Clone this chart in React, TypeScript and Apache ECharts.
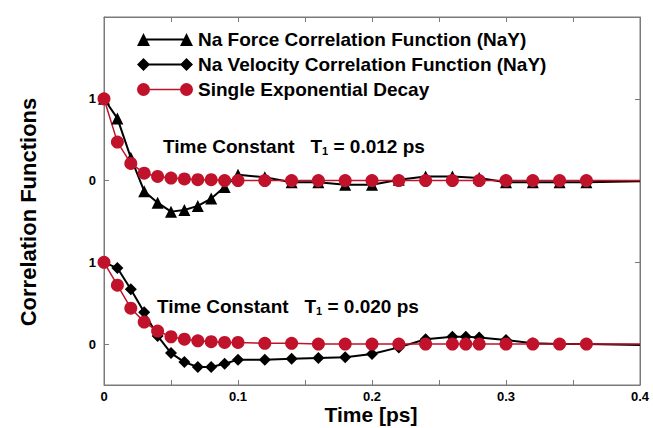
import React, { useEffect, useRef } from "react";
import * as echarts from "echarts";

// ---- data ----
// Upper panel: Na force correlation function (NaY), plotted with a +2 offset
const forceT = [0, 0.01, 0.02, 0.03, 0.04, 0.05, 0.06, 0.07, 0.08, 0.09, 0.1, 0.12, 0.14, 0.16, 0.18, 0.2, 0.22, 0.24, 0.26, 0.28, 0.3, 0.32, 0.34, 0.36, 0.4];
const forceV = [1, 0.76, 0.28, -0.13, -0.27, -0.38, -0.36, -0.31, -0.22, -0.08, 0.07, 0.04, -0.02, -0.02, -0.05, -0.05, 0.01, 0.05, 0.05, 0.03, -0.02, -0.02, -0.02, -0.02, -0.01];
// Upper panel: single exponential decay (T1 = 0.012 ps)
const expTopT = [0, 0.01, 0.02, 0.03, 0.04, 0.05, 0.06, 0.07, 0.08, 0.09, 0.1, 0.12, 0.14, 0.16, 0.18, 0.2, 0.22, 0.24, 0.26, 0.28, 0.3, 0.32, 0.34, 0.36, 0.4];
const expTopV = [1, 0.47, 0.21, 0.09, 0.05, 0.03, 0.02, 0.01, 0.01, 0, 0, 0, 0, 0, 0, 0, 0, 0, 0, 0, 0, 0, 0, 0, 0];
// Lower panel: Na velocity correlation function (NaY)
const velT = [0, 0.01, 0.02, 0.03, 0.04, 0.05, 0.06, 0.07, 0.08, 0.09, 0.1, 0.12, 0.14, 0.16, 0.18, 0.2, 0.22, 0.24, 0.26, 0.27, 0.28, 0.3, 0.32, 0.34, 0.36, 0.4];
const velV = [1, 0.93, 0.67, 0.39, 0.1, -0.11, -0.22, -0.28, -0.28, -0.24, -0.19, -0.19, -0.18, -0.17, -0.16, -0.12, -0.04, 0.06, 0.09, 0.09, 0.08, 0.05, 0.01, 0, 0, -0.01];
// Lower panel: single exponential decay (T1 = 0.020 ps)
const expBotT = [0, 0.01, 0.02, 0.03, 0.04, 0.05, 0.06, 0.07, 0.08, 0.09, 0.1, 0.12, 0.14, 0.16, 0.18, 0.2, 0.22, 0.24, 0.26, 0.27, 0.28, 0.3, 0.32, 0.34, 0.36, 0.4];
const expBotV = [1, 0.72, 0.44, 0.27, 0.16, 0.09, 0.06, 0.04, 0.03, 0.02, 0.02, 0.01, 0.01, 0, 0, 0, 0, 0, 0, 0, 0, 0, 0, 0, 0, 0];

const TOP_OFFSET = 2;
const LINE_END_T = 0.4; // end of the line, drawn without a marker

const xLabelValues = [0, 0.1, 0.2, 0.3, 0.4];
const xTickValues = [0, 0.05, 0.1, 0.15, 0.2, 0.25, 0.3, 0.35, 0.4];
const yTickValues = [0, 1, 2, 3];
const yTickLabels = ["0", "1", "0", "1"];

const legendNames = [
  "Na Force Correlation Function (NaY)",
  "Na Velocity Correlation Function (NaY)",
  "Single Exponential Decay",
];
const annotations = ["0.012", "0.020"];
const xAxisTitle = "Time [ps]";
const yAxisTitle = "Correlation Functions";

const FONT = "'Liberation Sans', Arial, Helvetica, sans-serif";
const RED = "#c0122a";
const AXIS_GRAY = "#7a7a7a";

const toPoints = (ts: number[], vs: number[], off: number) =>
  ts.map((t, i) =>
    t === LINE_END_T ? { value: [t, vs[i] + off], symbol: "none" } : [t, vs[i] + off]
  );

const ICON_TRI =
  "path://M0 13 L6.5 0 L13 13 Z M43 13 L49.5 0 L56 13 Z M6.5 5.5 L49.5 5.5 L49.5 7.5 L6.5 7.5 Z";
const ICON_DIA =
  "path://M0 6.5 L6.5 0 L13 6.5 L6.5 13 Z M43 6.5 L49.5 0 L56 6.5 L49.5 13 Z M6.5 5.5 L49.5 5.5 L49.5 7.5 L6.5 7.5 Z";
const ICON_CIR =
  "path://M0 6.5 A6.5 6.5 0 1 1 13 6.5 A6.5 6.5 0 1 1 0 6.5 Z M43 6.5 A6.5 6.5 0 1 1 56 6.5 A6.5 6.5 0 1 1 43 6.5 Z M6.5 5.75 L49.5 5.75 L49.5 7.25 L6.5 7.25 Z";

export default function App() {
  const ref = useRef<HTMLDivElement>(null);

  useEffect(() => {
    if (!ref.current) return;
    const chart = echarts.init(ref.current, null, { renderer: "svg" });

    const annotationText = (val: string, left: number, top: number) => ({
      type: "text",
      left,
      top,
      style: {
        text: `{m|Time Constant   T}{s|1}{m| = ${val} ps}`,
        rich: {
          m: { fontSize: 19, fontWeight: "bold", fontFamily: FONT, fill: "#000", lineHeight: 20, verticalAlign: "middle" },
          s: { fontSize: 11, fontWeight: "bold", fontFamily: FONT, fill: "#000", lineHeight: 11, verticalAlign: "bottom" },
        },
      },
    });

    const axisCommon = {
      type: "value",
      show: true,
      gridIndex: 0,
      splitLine: { show: false },
      axisLine: { show: true, onZero: false, lineStyle: { color: AXIS_GRAY, width: 1 } },
    };

    const option: any = {
      animation: false,
      backgroundColor: "#fff",
      grid: {
        left: 104,
        right: 13,
        top: 17,
        bottom: 43,
        containLabel: false,
        outerBoundsMode: "none",
        show: true,
        borderColor: AXIS_GRAY,
        borderWidth: 1,
        backgroundColor: "transparent",
      },
      legend: {
        orient: "vertical",
        left: 137,
        top: 30,
        padding: 0,
        itemWidth: 56,
        itemHeight: 13,
        itemGap: 6,
        textStyle: { fontSize: 19, fontWeight: "bold", fontFamily: FONT, color: "#000", lineHeight: 18 },
        itemStyle: { borderWidth: 0 },
        data: [
          { name: legendNames[0], icon: ICON_TRI },
          { name: legendNames[1], icon: ICON_DIA },
          { name: legendNames[2], icon: ICON_CIR },
        ],
        selectedMode: false,
      },
      xAxis: [
        {
          ...axisCommon,
          min: 0,
          max: 0.4,
          position: "bottom",
          axisTick: { show: true, inside: true, length: 5, customValues: xTickValues, lineStyle: { color: AXIS_GRAY } },
          axisLabel: {
            customValues: xLabelValues,
            formatter: (v: number) => (v === 0 ? "0" : String(v)),
            fontSize: 13,
            fontWeight: "bold",
            fontFamily: FONT,
            color: "#000",
            margin: 5,
          },
        },
        {
          ...axisCommon,
          min: 0,
          max: 0.4,
          position: "top",
          axisTick: { show: true, inside: true, length: 5, customValues: xTickValues, lineStyle: { color: AXIS_GRAY } },
          axisLabel: { show: false },
        },
      ],
      yAxis: [
        {
          ...axisCommon,
          min: -0.5,
          max: 4,
          position: "left",
          axisTick: { show: true, inside: true, length: 5, customValues: yTickValues, lineStyle: { color: AXIS_GRAY } },
          axisLabel: {
            customValues: yTickValues,
            formatter: (v: number) => yTickLabels[yTickValues.indexOf(v)] ?? "",
            fontSize: 13,
            fontWeight: "bold",
            fontFamily: FONT,
            color: "#000",
            margin: 8,
          },
        },
        {
          ...axisCommon,
          min: -0.5,
          max: 4,
          position: "right",
          axisTick: { show: true, inside: true, length: 5, customValues: yTickValues, lineStyle: { color: AXIS_GRAY } },
          axisLabel: { show: false },
        },
      ],
      graphic: [
        {
          type: "text",
          x: 28,
          y: 212,
          rotation: Math.PI / 2,
          style: {
            text: yAxisTitle,
            font: `bold 22px ${FONT}`,
            fill: "#000",
            align: "center",
            verticalAlign: "middle",
          },
        },
        {
          type: "text",
          x: 371,
          y: 414,
          style: {
            text: xAxisTitle,
            font: `bold 21px ${FONT}`,
            fill: "#000",
            align: "center",
            verticalAlign: "middle",
          },
        },
        annotationText(annotations[0], 163, 137),
        annotationText(annotations[1], 157, 297),
      ],
      series: [
        {
          name: legendNames[0],
          type: "line",
          data: toPoints(forceT, forceV, TOP_OFFSET),
          symbol: "triangle",
          symbolSize: 12,
          color: "#000",
          lineStyle: { color: "#000", width: 2 },
          itemStyle: { color: "#000" },
        },
        {
          name: legendNames[1],
          type: "line",
          data: toPoints(velT, velV, 0),
          symbol: "diamond",
          symbolSize: 12,
          color: "#000",
          lineStyle: { color: "#000", width: 2 },
          itemStyle: { color: "#000" },
        },
        {
          name: legendNames[2],
          type: "line",
          data: toPoints(expTopT, expTopV, TOP_OFFSET),
          symbol: "circle",
          symbolSize: 13,
          color: RED,
          lineStyle: { color: RED, width: 1.5 },
          itemStyle: { color: RED },
        },
        {
          name: legendNames[2],
          type: "line",
          data: toPoints(expBotT, expBotV, 0),
          symbol: "circle",
          symbolSize: 13,
          color: RED,
          lineStyle: { color: RED, width: 1.5 },
          itemStyle: { color: RED },
        },
        {
          // empty helper so that the mirrored top/right axes are laid out
          type: "line",
          xAxisIndex: 1,
          yAxisIndex: 1,
          data: [],
          silent: true,
        },
      ],
    };

    chart.setOption(option);
    return () => chart.dispose();
  }, []);

  return (
    <div
      ref={ref}
      style={{ position: "fixed", left: 0, top: 0, width: 653, height: 428, background: "#fff" }}
    />
  );
}
